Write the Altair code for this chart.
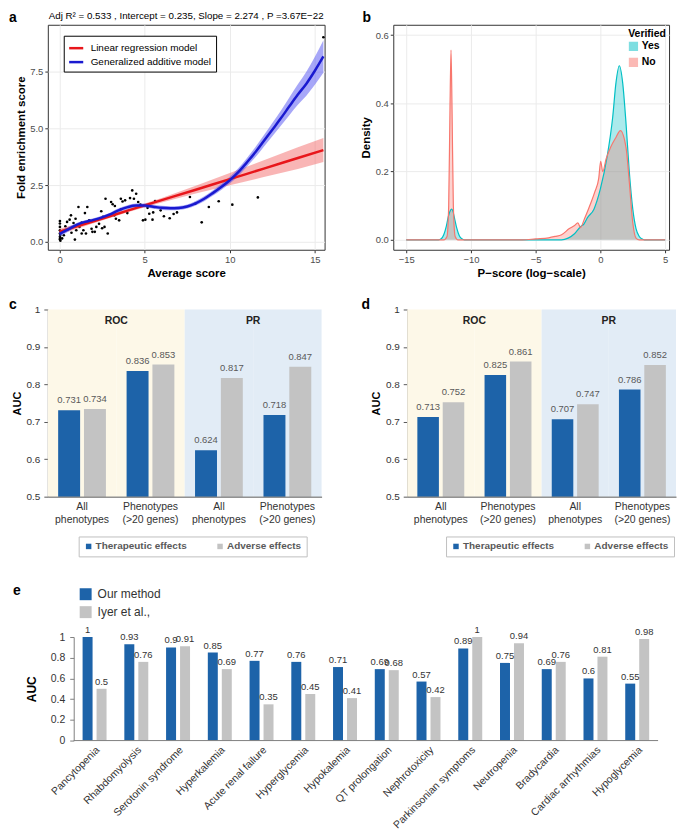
import altair as alt
import pandas as pd

FONT = "Liberation Sans"

# ---------------- Panel a ----------------
pt_x = [0.02, 0.02, 0.02, 0.02, 0.02, 0.02, 0.02, 0.05, 0.04, 0.03, 0.06,
        0.15, 0.25, 0.34, 0.44, 0.59, 0.67, 0.82, 0.94, 0.98, 0.90, 0.50, 0.70,
        1.11, 1.17, 1.30, 1.40, 1.49, 1.55, 1.63, 1.74, 1.88, 1.93, 1.30,
        2.07, 2.16, 2.32, 2.45, 2.55, 2.64, 2.83, 2.70, 2.50,
        3.03, 3.12, 3.22, 3.31, 3.50, 3.60, 3.60, 3.70, 3.85, 3.98, 3.25,
        4.14, 4.27, 4.37, 4.50, 4.62, 4.75, 4.90,
        5.04, 5.17, 5.27, 5.46, 5.61, 5.50,
        5.94, 6.13, 6.47, 6.70, 6.90,
        7.66, 7.97, 8.35, 8.77, 9.35, 10.15, 11.65, 15.50]
pt_y = [0.92, 0.81, 0.66, 0.51, 0.37, 0.22, 0.10, 0.05, 0.30, 0.15, 0.45,
        0.15, 0.29, 0.69, 0.88, 0.98, 1.17, 0.83, 1.02, 0.51, 0.10, 0.55, 0.40,
        1.54, 0.66, 0.37, 0.51, 1.27, 0.37, 1.54, 0.95, 0.58, 0.44, 0.85,
        0.44, 0.66, 0.80, 1.35, 1.10, 0.66, 0.37, 1.90, 0.60,
        1.76, 1.66, 1.17, 1.02, 0.95, 1.44, 1.90, 1.78, 1.83, 1.27, 1.58,
        1.93, 2.27, 1.90, 2.12, 1.76, 1.65, 0.95,
        0.98, 1.50, 1.24, 0.98, 1.80, 1.30,
        1.39, 1.13, 1.04, 1.23, 1.30,
        1.98, 1.68, 0.86, 1.54, 1.79, 1.64, 1.96, 9.03]

lm_x = [0, 2, 4, 6, 8, 10, 12, 14, 15.5]
lm_fit = [0.45, 0.91, 1.38, 1.84, 2.30, 2.77, 3.23, 3.70, 4.05]
lm_lo = [0.32, 0.82, 1.31, 1.74, 2.13, 2.50, 2.86, 3.22, 3.52]
lm_hi = [0.58, 1.00, 1.45, 1.94, 2.47, 3.04, 3.60, 4.18, 4.58]

gam_x = [0, 0.5, 1, 1.5, 2, 2.5, 3, 3.5, 4, 4.5, 5, 5.5, 6, 6.5, 7, 7.5, 8,
         8.5, 9, 9.5, 10, 10.5, 11, 11.5, 12, 12.5, 13, 13.5, 14, 14.5, 15, 15.5]
gam_fit = [0.35, 0.55, 0.75, 0.88, 0.97, 1.08, 1.22, 1.40, 1.53, 1.60, 1.60,
           1.55, 1.50, 1.48, 1.49, 1.56, 1.70, 1.90, 2.15, 2.42, 2.72, 3.08,
           3.50, 3.95, 4.45, 4.95, 5.45, 5.98, 6.50, 6.98, 7.55, 8.18]
gam_lo = [0.23, 0.45, 0.67, 0.81, 0.90, 1.01, 1.14, 1.31, 1.44, 1.51, 1.51,
          1.46, 1.41, 1.39, 1.40, 1.47, 1.60, 1.79, 2.03, 2.29, 2.57, 2.91,
          3.31, 3.73, 4.20, 4.66, 5.12, 5.59, 6.05, 6.45, 6.93, 7.46]
gam_hi = [0.47, 0.65, 0.83, 0.95, 1.04, 1.15, 1.30, 1.49, 1.62, 1.69, 1.69,
          1.64, 1.59, 1.57, 1.58, 1.65, 1.80, 2.01, 2.27, 2.55, 2.87, 3.25,
          3.69, 4.17, 4.70, 5.24, 5.78, 6.37, 6.95, 7.51, 8.17, 8.90]

models = ["Linear regression model", "Generalized additive model"]
model_colors = ["#e8161b", "#1a1ad0"]
title_a = "Adj  R² = 0.533 , Intercept =  0.235, Slope =  2.274 , P =3.67E−22"

# ---------------- Panel b ----------------
yes_x = [-15, -12.5, -12.3, -12.1, -11.9, -11.75, -11.6, -11.5, -11.4, -11.25,
         -11.1, -10.9, -10.7, -10.5, -3.0, -2.5, -2.0, -1.5, -1.3, -1.0, -0.5,
         0.0, 0.5, 0.95, 1.2, 1.46, 1.72, 1.98, 2.23, 2.5, 2.75, 3.0, 3.2, 3.4, 5]
yes_y = [0, 0, 0.003, 0.015, 0.04, 0.068, 0.085, 0.09, 0.085, 0.06,
         0.035, 0.012, 0.003, 0, 0, 0.005, 0.018, 0.04, 0.045, 0.065, 0.09,
         0.15, 0.24, 0.36, 0.46, 0.51, 0.46, 0.34, 0.20, 0.09, 0.033, 0.01, 0.003, 0, 0]
no_x = [-15, -12.1, -11.85, -11.72, -11.62, -11.54, -11.46, -11.36, -11.22,
        -11.0, -6.0, -5.0, -4.0, -3.5, -3.0, -2.4, -2.0, -1.74, -1.54, -1.23,
        -0.72, -0.44, -0.13, 0.02, 0.18, 0.44, 0.77, 1.2, 1.54, 1.98, 2.23,
        2.5, 2.75, 3.0, 5]
no_y = [0, 0, 0.01, 0.10, 0.38, 0.556, 0.38, 0.10, 0.01,
        0, 0, 0.003, 0.006, 0.01, 0.015, 0.033, 0.042, 0.05, 0.036, 0.062,
        0.11, 0.14, 0.18, 0.23, 0.20, 0.237, 0.27, 0.30, 0.32, 0.27, 0.17,
        0.05, 0.005, 0, 0]
verified = ["Yes", "No"]
verified_colors = ["#00BFC4", "#F8766D"]

# ---------------- Panels c / d ----------------
cd_line1 = ["All", "Phenotypes", "All", "Phenotypes"]
cd_line2 = ["phenotypes", "(>20 genes)", "phenotypes", "(>20 genes)"]
cd_metric = ["ROC", "ROC", "PR", "PR"]
cd_series = ["Therapeutic effects", "Adverse effects"]
c_ther = [0.731, 0.836, 0.624, 0.718]
c_adv = [0.734, 0.853, 0.817, 0.847]
d_ther = [0.713, 0.825, 0.707, 0.786]
d_adv = [0.752, 0.861, 0.747, 0.852]
metric_bg = {"ROC": "#fdf8e8", "PR": "#e2ecf6"}
bar_colors = ["#1d63a9", "#c3c3c3"]

# ---------------- Panel e ----------------
e_cats = ["Pancytopenia", "Rhabdomyolysis", "Serotonin syndrome", "Hyperkalemia",
          "Acute renal failure", "Hyperglycemia", "Hypokalemia", "QT prolongation",
          "Nephrotoxicity", "Parkinsonian symptoms", "Neutropenia", "Bradycardia",
          "Cardiac arrhythmias", "Hypoglycemia"]
e_ours = [1, 0.93, 0.9, 0.85, 0.77, 0.76, 0.71, 0.69, 0.57, 0.89, 0.75, 0.69, 0.6, 0.55]
e_iyer = [0.5, 0.76, 0.91, 0.69, 0.35, 0.45, 0.41, 0.68, 0.42, 1, 0.94, 0.76, 0.81, 0.98]
e_series = ["Our method", "Iyer et al.,"]


def letter(ch, x, y):
    return alt.Chart(pd.DataFrame({"t": [ch]})).mark_text(
        fontSize=14, fontWeight="bold", align="left", baseline="top",
        color="black").encode(x=alt.value(x), y=alt.value(y), text="t:N")


gg_axis = dict(domain=False, tickSize=3, tickColor="#333333", labelColor="#4d4d4d",
               labelFontSize=9.5, labelPadding=2, gridColor="#ebebeb",
               titleFontSize=11.5, titleFontWeight="bold", titleColor="black")

# ---- Panel a
WA = 278
xa = alt.Scale(domain=[-0.69, 15.57], nice=False, zero=False)
ya = alt.Scale(domain=[-0.35, 9.58], nice=False, zero=False)
xax_a = alt.Axis(values=[0, 5, 10, 15], title="Average score", titlePadding=3, **gg_axis)
yax_a = alt.Axis(values=[0, 2.5, 5, 7.5], format=".1f", title="Fold enrichment score",
                 titlePadding=3, **gg_axis)

df_pts = pd.DataFrame({"x": pt_x, "y": pt_y})
df_lm = pd.DataFrame({"x": lm_x, "fit": lm_fit, "lo": lm_lo, "hi": lm_hi, "model": models[0]})
df_gam = pd.DataFrame({"x": gam_x, "fit": gam_fit, "lo": gam_lo, "hi": gam_hi, "model": models[1]})
df_lines = pd.concat([df_lm, df_gam], ignore_index=True)

pts = alt.Chart(df_pts).mark_circle(size=7, color="black", opacity=1).encode(
    x=alt.X("x:Q", scale=xa, axis=xax_a), y=alt.Y("y:Q", scale=ya, axis=yax_a))
lm_band = alt.Chart(df_lm).mark_area(color="#f25a5a", opacity=0.45).encode(
    x=alt.X("x:Q", scale=xa, axis=xax_a), y=alt.Y("lo:Q", scale=ya, axis=yax_a), y2="hi:Q")
gam_band = alt.Chart(df_gam).mark_area(color="#4f4ff2", opacity=0.5, interpolate="monotone").encode(
    x=alt.X("x:Q", scale=xa, axis=xax_a), y=alt.Y("lo:Q", scale=ya, axis=yax_a), y2="hi:Q")
lines = alt.Chart(df_lines).mark_line(strokeWidth=2.5, interpolate="monotone").encode(
    x=alt.X("x:Q", scale=xa, axis=xax_a),
    y=alt.Y("fit:Q", scale=ya, axis=yax_a),
    color=alt.Color("model:N", scale=alt.Scale(domain=models, range=model_colors),
                    legend=alt.Legend(title=None, orient="none", legendX=16, legendY=11,
                                      symbolType="stroke", symbolStrokeWidth=2.5,
                                      symbolSize=200, labelFontSize=10, labelColor="black",
                                      labelFontWeight="normal",
                                      strokeColor="black", fillColor="white", padding=4,
                                      rowPadding=0, labelOffset=6)))
head_a = alt.Chart(pd.DataFrame({"t": [title_a]})).mark_text(
    fontSize=9.8, baseline="bottom", align="center", color="black").encode(
    x=alt.value(WA / 2), y=alt.value(-4), text="t:N")
panel_a = alt.layer(pts, lm_band, gam_band, lines, head_a, letter("a", -39, -14)).properties(
    width=WA, height=226, view=alt.ViewBackground(stroke="#333333", strokeWidth=1))

# ---- Panel b
xb = alt.Scale(domain=[-16, 5.3], nice=False, zero=False)
yb = alt.Scale(domain=[-0.029, 0.63], nice=False, zero=False)
xax_b = alt.Axis(values=[-15, -10, -5, 0, 5], title="P−score (log−scale)", titlePadding=3, **gg_axis)
yax_b = alt.Axis(values=[0, 0.2, 0.4, 0.6], format=".1f", title="Density", titlePadding=4, **gg_axis)
df_dens = pd.concat([
    pd.DataFrame({"x": yes_x, "d": yes_y, "Verified": "Yes"}),
    pd.DataFrame({"x": no_x, "d": no_y, "Verified": "No"}),
], ignore_index=True)
dens = alt.Chart(df_dens).mark_area(
    fillOpacity=0.33, interpolate="monotone",
    line={"strokeWidth": 1.2, "interpolate": "monotone"}).encode(
    x=alt.X("x:Q", scale=xb, axis=xax_b),
    y=alt.Y("d:Q", scale=yb, axis=yax_b, stack=None),
    color=alt.Color("Verified:N", scale=alt.Scale(domain=verified, range=verified_colors),
                    legend=alt.Legend(title="Verified", orient="none", legendX=236, legendY=4,
                                      titleFontSize=10.5, titleFontWeight="bold", titleColor="black",
                                      labelFontSize=10.5, labelFontWeight="bold", labelColor="black",
                                      symbolType="square", symbolSize=60, symbolOpacity=0.5,
                                      rowPadding=1, titlePadding=2, labelOffset=3)))
panel_b = alt.layer(dens, letter("b", -31, -14)).properties(
    width=277, height=226, view=alt.ViewBackground(stroke="#333333", strokeWidth=1))


# ---- Panels c / d
def auc_panel(ther, adv, ch, letter_x, legend_x, width):
    groups = [f"{a} {b} ({m})" for a, b, m in zip(cd_line1, cd_line2, cd_metric)]
    df = pd.DataFrame({
        "group": groups + groups,
        "series": [cd_series[0]] * 4 + [cd_series[1]] * 4,
        "value": ther + adv,
    })
    lab = pd.DataFrame({"group": groups, "l1": cd_line1, "l2": cd_line2,
                        "bg": [metric_bg[m] for m in cd_metric], "metric": cd_metric})
    hdr = lab.iloc[[0, 2]]
    xs = alt.Scale(domain=groups, paddingInner=0, paddingOuter=0)
    xo = alt.Scale(domain=cd_series, paddingInner=0.15, paddingOuter=0.4)
    ys = alt.Scale(domain=[0.5, 1.0], nice=False, zero=False)
    xax = alt.Axis(title=None, labels=False, ticks=False, domainColor="#595959")
    yax = alt.Axis(values=[0.5, 0.6, 0.7, 0.8, 0.9, 1.0], format="~g", title="AUC",
                   titleFontSize=11, titleFontWeight="bold", titleColor="black",
                   titlePadding=4, tickSize=4, labelPadding=4, grid=False,
                   domainColor="#595959", tickColor="#595959", labelColor="#333333",
                   labelFontSize=10)
    back = alt.Chart(lab).mark_rect().encode(
        x=alt.X("group:N", scale=xs, axis=xax), y=alt.value(0), y2=alt.value(188),
        fill=alt.Fill("bg:N", scale=None))
    bars = alt.Chart(df).mark_bar().encode(
        x=alt.X("group:N", scale=xs, axis=xax),
        xOffset=alt.XOffset("series:N", scale=xo),
        y=alt.Y("value:Q", scale=ys, axis=yax), y2=alt.datum(0.5),
        color=alt.Color("series:N", scale=alt.Scale(domain=cd_series, range=bar_colors),
                        legend=alt.Legend(title=None, orient="none", legendX=legend_x, legendY=228,
                                          direction="horizontal", symbolType="square",
                                          symbolSize=30, labelFontSize=10, labelFontWeight="bold",
                                          labelColor="#595959", strokeColor="#bfbfbf", padding=5,
                                          columnPadding=28, labelOffset=2)))
    txt = alt.Chart(df).mark_text(baseline="bottom", dy=-5, fontSize=9.5, color="#595959").encode(
        x=alt.X("group:N", scale=xs, axis=xax),
        xOffset=alt.XOffset("series:N", scale=xo),
        y=alt.Y("value:Q", scale=ys, axis=yax),
        text=alt.Text("value:Q", format=".3f"))
    head = alt.Chart(hdr).mark_text(fontWeight="bold", fontSize=10.5, baseline="middle",
                                    color="#222222", dx=width / 8).encode(
        x=alt.X("group:N", scale=xs, axis=xax), y=alt.value(12), text="metric:N")
    l1 = alt.Chart(lab).mark_text(baseline="top", fontSize=10.5, color="#333333").encode(
        x=alt.X("group:N", scale=xs, axis=xax), y=alt.value(193), text="l1:N")
    l2 = alt.Chart(lab).mark_text(baseline="top", fontSize=10.5, color="#333333").encode(
        x=alt.X("group:N", scale=xs, axis=xax), y=alt.value(206), text="l2:N")
    return alt.layer(back, bars, txt, head, l1, l2, letter(ch, letter_x, -12)).properties(
        width=width, height=188)


panel_c = auc_panel(c_ther, c_adv, "c", -39, 31, 275)
panel_d = auc_panel(d_ther, d_adv, "d", -46, 39, 270)

# ---- Panel e
WE = 613
df_e = pd.DataFrame({
    "cat": e_cats + e_cats,
    "series": [e_series[0]] * len(e_cats) + [e_series[1]] * len(e_cats),
    "value": e_ours + e_iyer,
})
xs_e = alt.Scale(domain=e_cats, paddingInner=0, paddingOuter=0.31, align=1)
xo_e = alt.Scale(domain=e_series, paddingInner=0.286, paddingOuter=0.636)
ys_e = alt.Scale(domain=[0, 1], nice=False)
xax_e = alt.Axis(title=None, labelAngle=-45, labelFontSize=10.5, labelColor="#333333",
                 ticks=False, domain=False, labelPadding=4)
yax_e = alt.Axis(values=[0, 0.2, 0.4, 0.6, 0.8, 1], format="~g", title="AUC", titleFontSize=12,
                 titleFontWeight="bold", titleColor="black", titlePadding=12, tickSize=4,
                 labelPadding=5, grid=False, domainColor="#7f7f7f", tickColor="#7f7f7f",
                 labelColor="#333333", labelFontSize=10.5, offset=-26)
bars_e = alt.Chart(df_e).mark_bar().encode(
    x=alt.X("cat:N", scale=xs_e, axis=xax_e),
    xOffset=alt.XOffset("series:N", scale=xo_e),
    y=alt.Y("value:Q", scale=ys_e, axis=yax_e),
    color=alt.Color("series:N", scale=alt.Scale(domain=e_series, range=bar_colors),
                    legend=alt.Legend(title=None, orient="none", legendX=31, legendY=-50,
                                      symbolType="square", symbolSize=144, labelFontSize=12,
                                      labelColor="#333333", rowPadding=5, labelOffset=5)))
txt_e = alt.Chart(df_e).mark_text(baseline="bottom", dy=-2, fontSize=9.5, color="#333333").encode(
    x=alt.X("cat:N", scale=xs_e, axis=xax_e),
    xOffset=alt.XOffset("series:N", scale=xo_e),
    y=alt.Y("value:Q", scale=ys_e, axis=yax_e),
    text=alt.Text("value:Q", format="~g"))
base_e = alt.Chart(pd.DataFrame({"v": [0]})).mark_rule(color="#7f7f7f").encode(
    x=alt.value(26), x2=alt.value(WE), y=alt.value(104))
panel_e = alt.layer(bars_e, txt_e, base_e, letter("e", -35, -53)).properties(width=WE, height=104)

indep = dict(color="independent", xOffset="independent")
row1 = alt.hconcat(panel_a, panel_b, spacing=30).resolve_scale(**indep)
row2 = alt.hconcat(panel_c, panel_d, spacing=38).resolve_scale(**indep)
top = alt.vconcat(row1, row2, spacing=17).resolve_scale(**indep)
chart = alt.vconcat(top, panel_e, spacing=26).resolve_scale(**indep).properties(
    padding=0).configure(font=FONT).configure_view(stroke="transparent")

chart.save("out.html", embed_options={"renderer": "svg", "actions": False})
